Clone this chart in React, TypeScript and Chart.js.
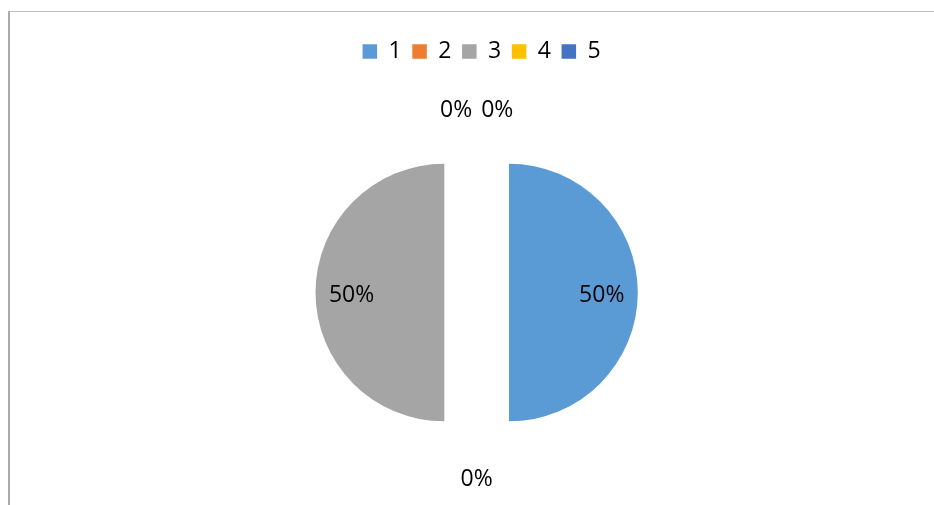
import React, { useEffect, useRef } from "react";
import { Chart, registerables } from "chart.js";

Chart.register(...registerables);

const categories = ["1", "2", "3", "4", "5"];
const values = [50, 0, 50, 0, 0];
const colors = ["#5B9BD5", "#ED7D31", "#A5A5A5", "#FFC000", "#4472C4"];

const FONT = "'Open Sans', 'Noto Sans', sans-serif";
const EXPLODE = 32.35;

// Draws each arc from the library's computed geometry, pulled out along its mid-angle.
const explodePlugin = {
  id: "explodeArcs",
  beforeDatasetDraw(chart: any, args: any) {
    const meta = args.meta;
    const ctx = chart.ctx as CanvasRenderingContext2D;
    meta.data.forEach((arc: any) => {
      const p = arc.getProps(["x", "y", "startAngle", "endAngle", "outerRadius", "circumference"], true);
      if (!p.circumference) return;
      const mid = (p.startAngle + p.endAngle) / 2;
      const cx = p.x + Math.cos(mid) * EXPLODE;
      const cy = p.y + Math.sin(mid) * EXPLODE;
      ctx.save();
      ctx.beginPath();
      ctx.moveTo(cx, cy);
      ctx.arc(cx, cy, p.outerRadius, p.startAngle, p.endAngle);
      ctx.closePath();
      ctx.fillStyle = arc.options.backgroundColor;
      ctx.fill();
      ctx.restore();
    });
    return false;
  },
};

const labelPlugin = {
  id: "pctLabels",
  afterDatasetsDraw(chart: any) {
    const ctx = chart.ctx as CanvasRenderingContext2D;
    const meta = chart.getDatasetMeta(0);
    const data = chart.data.datasets[0].data as number[];
    const total = data.reduce((a: number, b: number) => a + b, 0);
    ctx.save();
    ctx.font = `23px ${FONT}`;
    ctx.fillStyle = "#000";
    ctx.textAlign = "center";
    ctx.textBaseline = "middle";
    const items: { text: string; x: number; y: number; w: number }[] = [];
    meta.data.forEach((arc: any, i: number) => {
      const p = arc.getProps(["x", "y", "startAngle", "endAngle", "outerRadius"], true);
      const mid = (p.startAngle + p.endAngle) / 2;
      const v = data[i];
      const r = v > 0 ? EXPLODE + p.outerRadius * 0.72 : p.outerRadius + EXPLODE + 23.3;
      const text = Math.round((v / total) * 100) + "%";
      items.push({
        text,
        x: p.x + Math.cos(mid) * r,
        y: p.y + Math.sin(mid) * r + 2.5,
        w: ctx.measureText(text).width,
      });
    });
    const used = new Array(items.length).fill(false);
    const gap = 9;
    for (let i = 0; i < items.length; i++) {
      if (used[i]) continue;
      const group = [i];
      used[i] = true;
      for (let j = i + 1; j < items.length; j++) {
        if (!used[j] && Math.abs(items[j].x - items[i].x) < 2 && Math.abs(items[j].y - items[i].y) < 2) {
          group.push(j);
          used[j] = true;
        }
      }
      const totalW = group.reduce((s, k) => s + items[k].w, 0) + gap * (group.length - 1);
      let cx = items[i].x - totalW / 2;
      group.forEach((k) => {
        ctx.fillText(items[k].text, cx + items[k].w / 2, items[i].y);
        cx += items[k].w + gap;
      });
    }
    ctx.restore();
  },
};

const legendShift = {
  id: "legendShift",
  afterLayout(chart: any) {
    if (chart.legend) {
      chart.legend.left += 5;
      chart.legend.right += 5;
    }
  },
};

export default function App() {
  const ref = useRef<HTMLCanvasElement>(null);
  useEffect(() => {
    if (!ref.current) return;
    const chart = new Chart(ref.current, {
      type: "pie",
      data: {
        labels: categories,
        datasets: [
          {
            data: values,
            backgroundColor: colors,
            borderWidth: 0,
          },
        ],
      },
      options: {
        responsive: false,
        animation: false,
        radius: 128.8,
        layout: { padding: { top: 29.5, left: 19.3, right: 0, bottom: 0 } },
        plugins: {
          tooltip: { enabled: false },
          legend: {
            position: "top",
            labels: {
              boxWidth: 14.5,
              boxHeight: 14.5,
              padding: 10.6,
              color: "#000",
              font: { family: FONT, size: 23 },
            },
          },
        },
      } as any,
      plugins: [explodePlugin, labelPlugin, legendShift],
    });
    return () => chart.destroy();
  }, []);
  return (
    <div
      style={{
        position: "fixed",
        left: 0,
        top: 0,
        width: "100vw",
        height: "100vh",
        overflow: "hidden",
        background: "#fff",
      }}
    >
      <div
        style={{
          position: "absolute",
          left: 8,
          top: 11,
          width: 1000,
          height: 600,
          borderLeft: "2px solid #ABABAB",
          borderTop: "1px solid #BFBFBF",
          boxSizing: "border-box",
        }}
      />
      <canvas
        ref={ref}
        width={934}
        height={512}
        style={{ position: "absolute", left: 0, top: 0, width: 934, height: 512 }}
      />
    </div>
  );
}
